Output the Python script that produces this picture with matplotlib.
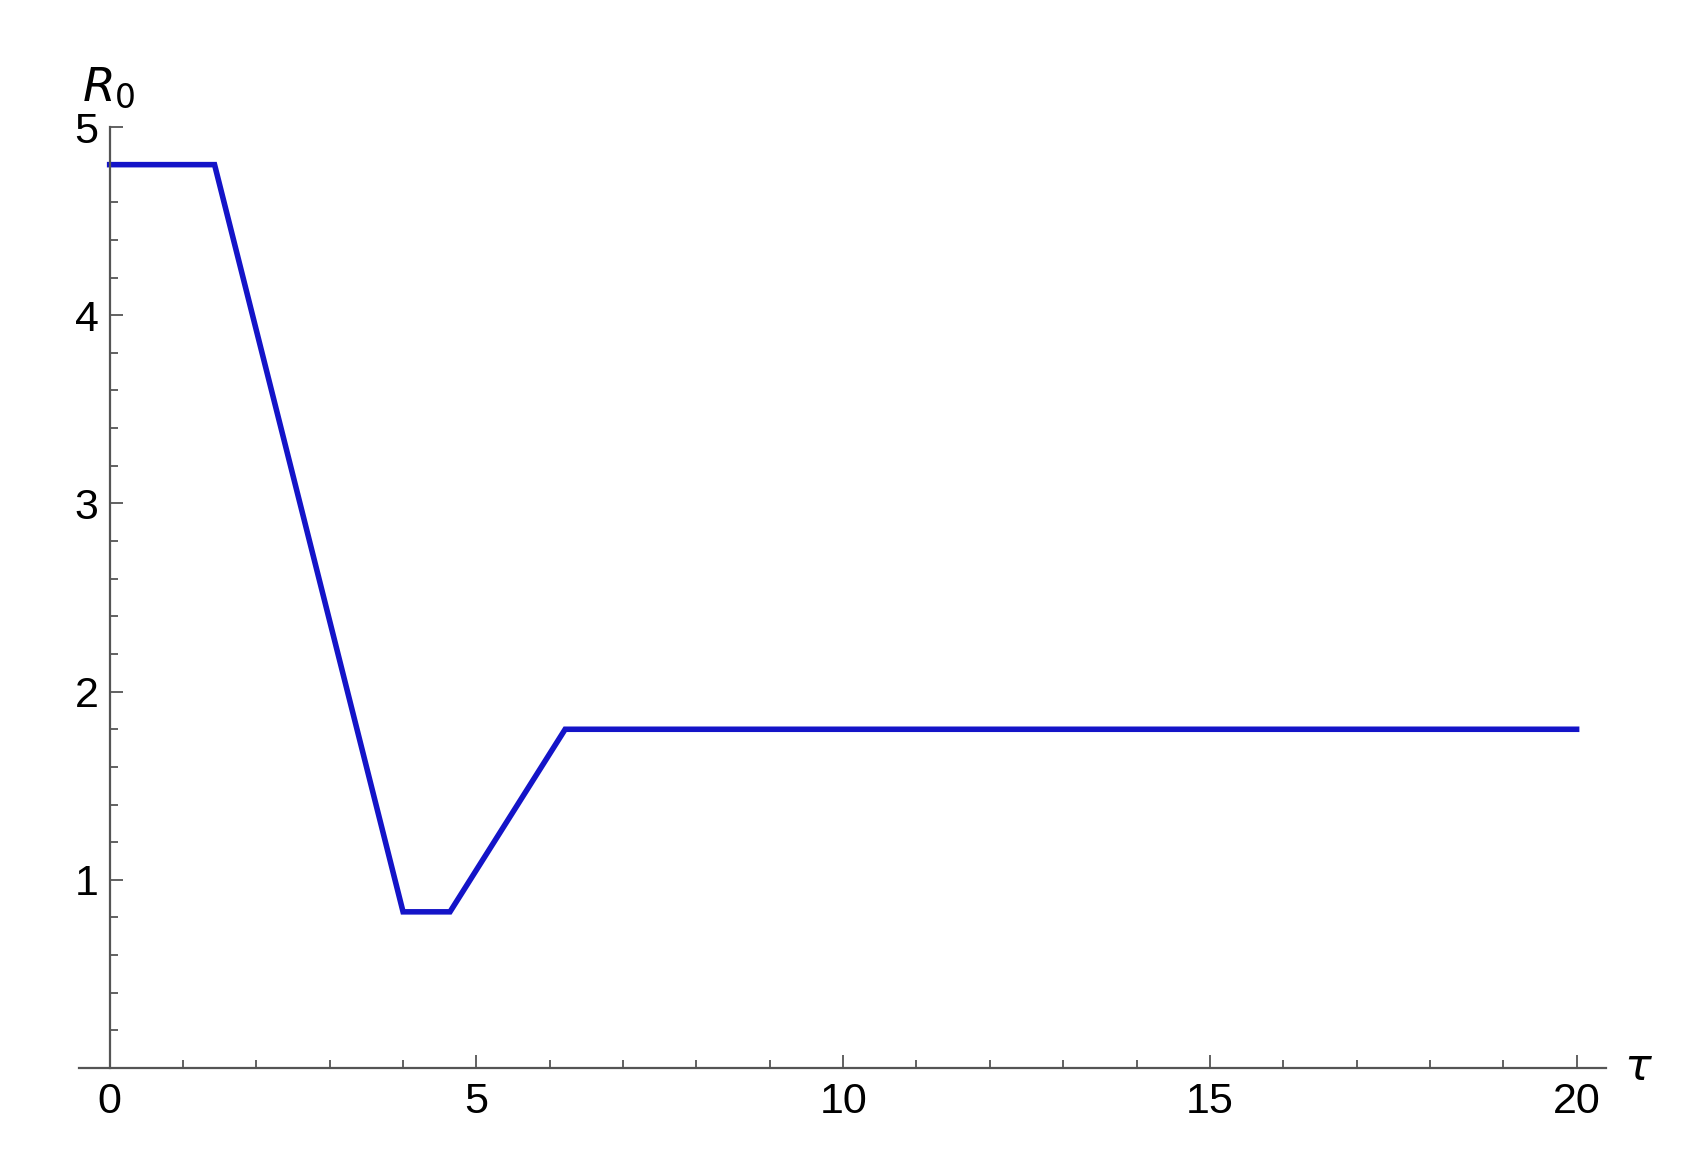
import matplotlib
matplotlib.use('Agg')
import matplotlib.pyplot as plt
from matplotlib.ticker import MultipleLocator

# breakpoints of R0(tau)
tau = [0, 1.43, 4.0, 4.64, 6.21, 20]
r0 = [4.8, 4.8, 0.83, 0.83, 1.8, 1.8]

x_major = [0, 5, 10, 15, 20]
y_major = [1, 2, 3, 4, 5]

plt.rcParams['font.family'] = ['Liberation Sans', 'DejaVu Sans']

fig = plt.figure(figsize=(17.07, 11.76), dpi=100)
ax = fig.add_axes([0.0462, 0.0918, 0.8946, 0.8002])

ax.plot(tau, r0, color='#1414c8', lw=4.0, solid_joinstyle='miter', clip_on=False)

ax.set_xlim(-0.42, 20.4)
ax.set_ylim(0, 5)

axis_col = '#555555'
for s in ['top', 'right']:
    ax.spines[s].set_visible(False)
ax.spines['left'].set_position(('data', 0))
ax.spines['left'].set_color(axis_col)
ax.spines['bottom'].set_color(axis_col)
ax.spines['left'].set_linewidth(1.6)
ax.spines['bottom'].set_linewidth(1.6)

ax.set_xticks(x_major)
ax.set_yticks(y_major)
ax.xaxis.set_minor_locator(MultipleLocator(1))
ax.yaxis.set_minor_locator(MultipleLocator(0.2))
ax.tick_params(which='both', direction='in', color=axis_col, width=1.3, labelsize=31, labelcolor='black')
ax.tick_params(which='major', length=9.5)
ax.tick_params(which='minor', length=5.5)
ax.tick_params(axis='x', pad=10)
ax.tick_params(axis='y', pad=8)

fig.text(82 / 1707, 1 - 88 / 1176, r'$R_{\mathrm{0}}$', fontsize=34, ha='left', va='center',
         math_fontfamily='dejavusans')
fig.text(1638 / 1707, 1 - 1068 / 1176, r'$\tau$', fontsize=32, ha='center', va='center',
         math_fontfamily='dejavusans')

fig.savefig('out.png', dpi=100, facecolor='white')
